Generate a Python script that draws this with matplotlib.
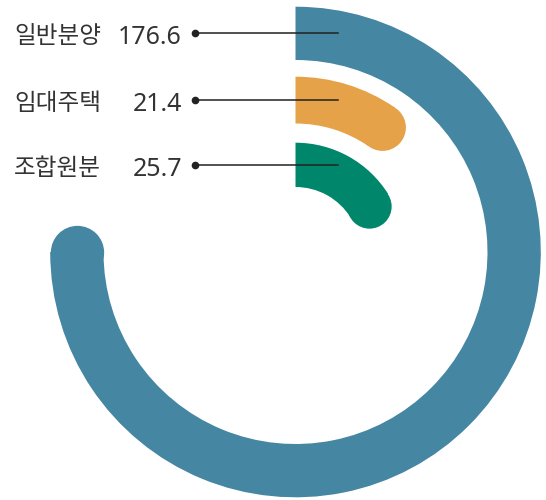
import numpy as np
import matplotlib
matplotlib.use("Agg")
import matplotlib.pyplot as plt

# data
labels = ["일반분양", "임대주택", "조합원분"]
values = [176.6, 21.4, 25.7]
sweep_deg = [270.0, 34.5, 58.0]   # angular length of each ring as drawn
colors = ["#4586a2", "#e5a248", "#00866b"]

# ring geometry (pixels)
W, H = 546, 500
cx, cy = 295.5, 252.0
R = 246.0
ring_in = [192.0, 128.5, 65.0]
ring_out = [245.3, 175.3, 109.3]


def draw_rings(ax):
    for lab, ang, c, r0, r1 in zip(labels, sweep_deg, colors, ring_in, ring_out):
        th = np.radians(ang)
        width = r1 - r0
        ax.bar(0, width, width=th, bottom=r0, align="edge", color=c, linewidth=0)
        # round cap at the end of each bar
        ax.scatter([th], [(r0 + r1) / 2], s=(width * 0.72) ** 2, color=c,
                   linewidths=0, zorder=3)


def draw_labels(ax):
    for lab, val, r0, r1 in zip(labels, values, ring_in, ring_out):
        y = cy - (r0 + r1) / 2
        ax.plot([195, 338], [y, y], color="#222222", lw=1.1, zorder=5)
        ax.plot([195], [y], "o", color="#222222", ms=4.5, zorder=5)
        ax.text(14, y + 10, lab, ha="left", va="baseline", fontsize=17,
                family=["Noto Sans CJK KR", "DejaVu Sans"], color="#333333")
        ax.text(182, y + 11, f"{val:.1f}", ha="right", va="baseline", fontsize=18,
                family=["Noto Sans", "DejaVu Sans"], color="#333333")


fig = plt.figure(figsize=(W / 100, H / 100), dpi=100)
pax = fig.add_axes([(cx - R) / W, (H - cy - R) / H, 2 * R / W, 2 * R / H],
                   projection="polar")
pax.set_theta_zero_location("N")
pax.set_theta_direction(-1)
pax.set_ylim(0, R)
pax.axis("off")
draw_rings(pax)

ax = fig.add_axes([0, 0, 1, 1], zorder=5)
ax.set_xlim(0, W)
ax.set_ylim(H, 0)
ax.axis("off")
ax.patch.set_alpha(0)
draw_labels(ax)

fig.savefig("out.png", dpi=100)
